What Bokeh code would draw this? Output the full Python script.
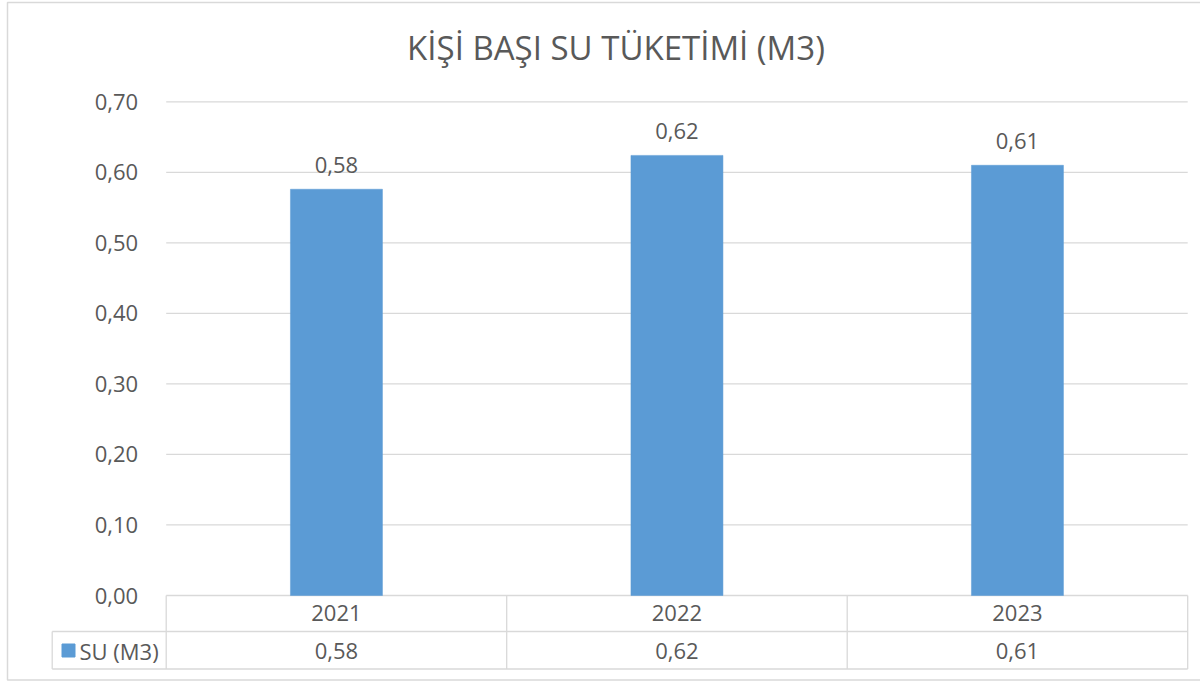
from bokeh.plotting import figure
from bokeh.models import Range1d, LinearAxis, FixedTicker
from bokeh.core.properties import value
from bokeh.embed import file_html
from bokeh.resources import INLINE

# ---- data ----
years = ["2021", "2022", "2023"]
su_m3 = [0.576, 0.624, 0.610]
value_labels = ["0,58", "0,62", "0,61"]
y_ticks = [0.0, 0.1, 0.2, 0.3, 0.4, 0.5, 0.6, 0.7]
y_tick_labels = ["0,00", "0,10", "0,20", "0,30", "0,40", "0,50", "0,60", "0,70"]
series_name = "SU (M3)"
title_text = "KİŞİ BAŞI SU TÜKETİMİ (M3)"

# ---- layout (page pixels of the reference) ----
W, H = 1200, 681
OFF = 0
AX_LEFT = 165.7      # page x of the value axis
CAT_W = 340.5        # page px per category
Y0 = 595.0           # page y of value 0
PX_PER_UNIT = 705.3  # page px per 1.0 of value

FONT = "Open Sans"
TXT = "#595959"
GRID = "#d9d9d9"
BAR = "#5b9bd5"


def dx(px):
    return (px - AX_LEFT) / CAT_W


def dy(py):
    return (Y0 - py) / PX_PER_UNIT


n = len(years)
centers = [i + 0.5 for i in range(n)]

p = figure(width=W, height=H,
           x_range=Range1d(dx(OFF), dx(OFF + W)),
           y_range=Range1d(dy(OFF + H), dy(OFF)),
           output_backend="svg", toolbar_location=None,
           x_axis_type=None, y_axis_type=None, min_border=0)
p.outline_line_color = None
p.background_fill_color = "white"
p.border_fill_color = "white"

# chart border
p.quad(left=[dx(7)], right=[dx(1230)], bottom=[dy(679.5)], top=[dy(2)],
       fill_color=None, line_color=GRID, line_width=1.5)

# value axis at x = 0
yaxis = LinearAxis(ticker=FixedTicker(ticks=y_ticks), fixed_location=0)
yaxis.major_label_overrides = {t: lab for t, lab in zip(y_ticks, y_tick_labels)}
yaxis.axis_line_color = None
yaxis.major_tick_line_color = None
yaxis.minor_tick_line_color = None
yaxis.major_label_standoff = 22
yaxis.major_label_text_font = FONT
yaxis.major_label_text_font_size = "22px"
yaxis.major_label_text_color = TXT
p.add_layout(yaxis, "left")

# gridlines
p.segment(x0=[0] * len(y_ticks), x1=[n] * len(y_ticks), y0=y_ticks, y1=y_ticks,
          line_color=GRID, line_width=1.3)

# bars
p.vbar(x=centers, top=su_m3, bottom=0, width=92 / CAT_W,
       fill_color=BAR, line_color=BAR, line_width=0.5)

# bar labels
p.text(x=centers, y=su_m3, text=value_labels, y_offset=-24,
       text_align="center", text_baseline="middle",
       text_font=value(FONT), text_font_size="22px", text_color=TXT)

# data table grid
row_mid = dy(631)
row_bot = dy(668.5)
leg_left = dx(51.7)
p.segment(x0=list(range(n + 1)), x1=list(range(n + 1)),
          y0=[0] * (n + 1), y1=[row_bot] * (n + 1),
          line_color=GRID, line_width=1.3)
p.segment(x0=[leg_left, leg_left, leg_left], x1=[n, n, leg_left],
          y0=[row_mid, row_bot, row_mid], y1=[row_mid, row_bot, row_bot],
          line_color=GRID, line_width=1.3)

# table texts
p.text(x=centers, y=[dy(612.5)] * n, text=years,
       text_align="center", text_baseline="middle",
       text_font=value(FONT), text_font_size="22px", text_color=TXT)
p.text(x=centers, y=[dy(650.5)] * n, text=value_labels,
       text_align="center", text_baseline="middle",
       text_font=value(FONT), text_font_size="22px", text_color=TXT)

# legend key in table
p.scatter(x=[dx(68)], y=[dy(650)], marker="square", size=13,
          fill_color=BAR, line_color=BAR)
p.text(x=[dx(79)], y=[dy(650.5)], text=[series_name],
       text_align="left", text_baseline="middle",
       text_font=value(FONT), text_font_size="22px", text_color=TXT)

# title
p.text(x=[dx(615.5)], y=[dy(47)], text=[title_text],
       text_align="center", text_baseline="middle",
       text_font=value(FONT), text_font_size="33px", text_color=TXT)

open("out.html", "w").write(file_html(p, INLINE))
